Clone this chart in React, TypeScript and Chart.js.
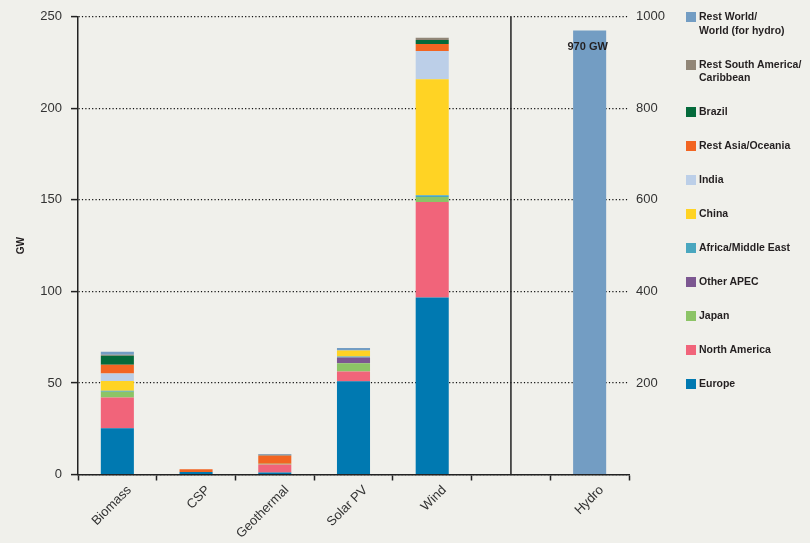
import React, { useEffect, useRef } from 'react';
import { Chart, registerables } from 'chart.js';

Chart.register(...registerables);

// ---- data ----
const categories = ['Biomass', 'CSP', 'Geothermal', 'Solar PV', 'Wind', '', 'Hydro'];

const europe = [25.2, 1.3, 1.1, 51.0, 96.7, null, null];
const northAmerica = [16.9, 0, 4.3, 5.2, 52.2, null, null];
const japan = [3.1, 0, 0.5, 4.5, 2.7, null, null];
const otherApec = [0, 0, 0, 3.2, 0, null, null];
const africaMiddleEast = [0.6, 0, 0, 0.5, 0.9, null, null];
const china = [5.3, 0, 0, 3.3, 63.4, null, null];
const india = [4.1, 0, 0, 0, 15.4, null, null];
const restAsiaOceania = [4.7, 1.5, 4.4, 0, 3.8, null, null];
const brazil = [4.9, 0, 0, 0, 2.2, null, null];
const restSouthAmerica = [0.6, 0, 0.5, 0, 1.2, null, null];
const restWorld = [1.7, 0, 0.4, 1.4, 0, null, null];
const hydroWorld = [null, null, null, null, null, null, 970];

const hydroLabel = '970 GW';
const leftAxis = { min: 0, max: 250, step: 50 };
const rightAxis = { min: 0, max: 1000, step: 200 };

const colors = {
  restWorld: '#739dc3',
  restSouthAmerica: '#918677',
  brazil: '#046a3b',
  restAsiaOceania: '#f26522',
  india: '#bccfe8',
  china: '#ffd324',
  africaMiddleEast: '#4aa7bf',
  otherApec: '#7c5791',
  japan: '#8cc466',
  northAmerica: '#f1647a',
  europe: '#0079b1',
};

const legendItems: { lines: string[]; color: string }[] = [
  { lines: ['Rest World/', 'World (for hydro)'], color: colors.restWorld },
  { lines: ['Rest South America/', 'Caribbean'], color: colors.restSouthAmerica },
  { lines: ['Brazil'], color: colors.brazil },
  { lines: ['Rest Asia/Oceania'], color: colors.restAsiaOceania },
  { lines: ['India'], color: colors.india },
  { lines: ['China'], color: colors.china },
  { lines: ['Africa/Middle East'], color: colors.africaMiddleEast },
  { lines: ['Other APEC'], color: colors.otherApec },
  { lines: ['Japan'], color: colors.japan },
  { lines: ['North America'], color: colors.northAmerica },
  { lines: ['Europe'], color: colors.europe },
];

const FONT = '"Liberation Sans", Arial, sans-serif';
const INK = '#231f20';

export default function App() {
  const ref = useRef<HTMLCanvasElement | null>(null);

  useEffect(() => {
    if (!ref.current) return;
    const stackSeries = [
      ['Europe', europe, colors.europe],
      ['North America', northAmerica, colors.northAmerica],
      ['Japan', japan, colors.japan],
      ['Other APEC', otherApec, colors.otherApec],
      ['Africa/Middle East', africaMiddleEast, colors.africaMiddleEast],
      ['China', china, colors.china],
      ['India', india, colors.india],
      ['Rest Asia/Oceania', restAsiaOceania, colors.restAsiaOceania],
      ['Brazil', brazil, colors.brazil],
      ['Rest South America/Caribbean', restSouthAmerica, colors.restSouthAmerica],
      ['Rest World', restWorld, colors.restWorld],
    ] as [string, (number | null)[], string][];

    const datasets: any[] = stackSeries.map(([label, data, color]) => ({
      label,
      data,
      backgroundColor: color,
      borderWidth: 0,
      yAxisID: 'y',
      barPercentage: 0.42,
      categoryPercentage: 1,
    }));
    datasets.push({
      label: 'World (hydro)',
      data: hydroWorld,
      backgroundColor: colors.restWorld,
      borderWidth: 0,
      yAxisID: 'y1',
      barPercentage: 0.42,
      categoryPercentage: 1,
    });
    const hydroIndex = datasets.length - 1;

    const overlay = {
      id: 'overlay',
      beforeDatasetsDraw(chart: any) {
        const ctx = chart.ctx;
        const x = chart.scales.x.getPixelForValue(5);
        const { top, bottom } = chart.chartArea;
        ctx.save();
        ctx.strokeStyle = '#222';
        ctx.lineWidth = 1.5;
        ctx.beginPath();
        ctx.moveTo(x, top);
        ctx.lineTo(x, bottom);
        ctx.stroke();
        ctx.restore();
      },
      afterDatasetsDraw(chart: any) {
        const ctx = chart.ctx;
        const el = chart.getDatasetMeta(hydroIndex).data[6];
        if (!el) return;
        ctx.save();
        ctx.fillStyle = INK;
        ctx.font = `bold 11px ${FONT}`;
        ctx.textAlign = 'center';
        ctx.textBaseline = 'middle';
        ctx.fillText(hydroLabel, el.x - 2, el.y + 16);
        ctx.restore();
      },
    };

    const chart = new Chart(ref.current, {
      type: 'bar',
      data: { labels: categories, datasets },
      plugins: [overlay],
      options: {
        animation: false,
        responsive: false,
        maintainAspectRatio: false,
        layout: { padding: { top: 14, right: 0, bottom: 0, left: 0 } },
        plugins: {
          legend: { display: false },
          tooltip: { enabled: false },
        },
        scales: {
          x: {
            stacked: true,
            afterFit: (s: any) => { s.height = 68.5; },
            grid: {
              offset: true,
              drawOnChartArea: false,
              drawTicks: true,
              tickLength: 6,
              color: '#222',
              tickColor: '#222',
              tickWidth: 1.5,
            },
            border: { display: true, color: '#222', width: 1.5 },
            ticks: {
              minRotation: 45,
              maxRotation: 45,
              autoSkip: false,
              labelOffset: 12,
              padding: 2,
              color: '#333',
              font: { family: FONT, size: 13 },
            },
          },
          y: {
            stacked: true,
            position: 'left',
            min: leftAxis.min,
            max: leftAxis.max,
            afterFit: (s: any) => { s.width = 78; },
            ticks: {
              stepSize: leftAxis.step,
              padding: 9,
              color: '#333',
              font: { family: FONT, size: 13 },
            },
            grid: {
              color: '#111',
              lineWidth: 1.2,
              drawTicks: true,
              tickLength: 7,
              tickColor: '#222',
              tickWidth: 1.5,
              tickBorderDash: [],
            },
            border: { display: true, color: '#222', width: 1.5, dash: [1.2, 2.2] },
            title: {
              display: true,
              text: 'GW',
              color: INK,
              font: { family: FONT, size: 10, weight: 'bold' },
              padding: { top: 15, bottom: 0 },
            },
          },
          y1: {
            stacked: true,
            position: 'right',
            min: rightAxis.min,
            max: rightAxis.max,
            afterFit: (s: any) => { s.width = 181; },
            ticks: {
              stepSize: rightAxis.step,
              padding: 7,
              color: '#333',
              font: { family: FONT, size: 13 },
              callback: (v: any) => (Number(v) === 0 ? '' : String(v)),
            },
            grid: { drawOnChartArea: false, drawTicks: false },
            border: { display: false },
          },
        },
      } as any,
    });
    return () => chart.destroy();
  }, []);

  return (
    <div
      style={{
        position: 'fixed',
        left: 0,
        top: 0,
        width: 810,
        height: 543,
        background: '#f0f0eb',
        overflow: 'hidden',
      }}
    >
      <canvas ref={ref} width={810} height={543} style={{ position: 'absolute', left: 0, top: 0, width: 810, height: 543 }} />
      <div style={{ position: 'absolute', left: 686, top: 10, fontFamily: FONT, fontSize: 10.5, fontWeight: 'bold', color: INK }}>
        {legendItems.map((it, i) => (
          <div key={i} style={{ display: 'flex', alignItems: 'flex-start', marginBottom: 20.5 }}>
            <div style={{ width: 10, height: 10, background: it.color, marginTop: 2, marginRight: 3, flex: 'none' }} />
            <div style={{ lineHeight: '13.5px', whiteSpace: 'nowrap' }}>
              {it.lines.map((l, j) => (
                <div key={j}>{l}</div>
              ))}
            </div>
          </div>
        ))}
      </div>
    </div>
  );
}
